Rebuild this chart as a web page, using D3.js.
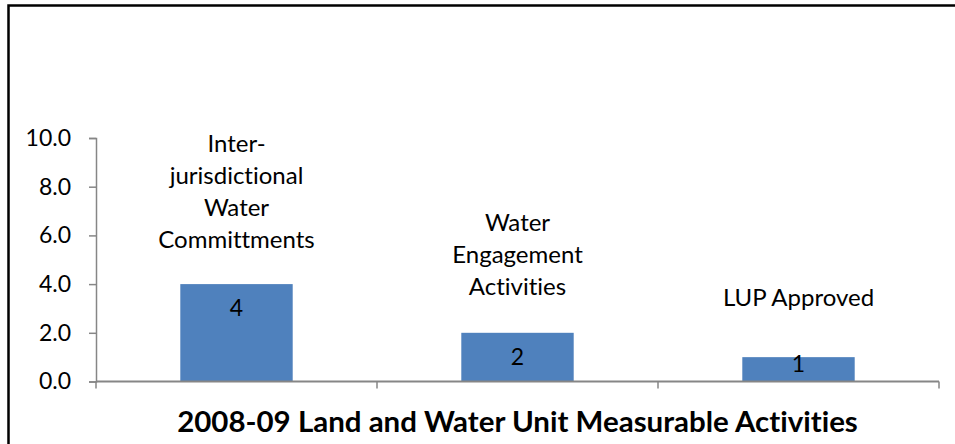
<!DOCTYPE html>
<html>
<head>
<meta charset="utf-8">
<script src="https://cdn.jsdelivr.net/npm/d3@7/dist/d3.min.js"></script>
<style>
  html, body { margin: 0; padding: 0; background: #fff; }
  svg { display: block; font-family: Lato, "Open Sans", sans-serif; font-variant-ligatures: none; }
</style>
</head>
<body>
<svg id="chart" width="955" height="444"></svg>
<script>
// ---- data ----
const categories = ["Inter-jurisdictional Water Committments", "Water Engagement Activities", "LUP Approved"];
const categoryLines = [
  ["Inter-", "jurisdictional", "Water", "Committments"],
  ["Water", "Engagement", "Activities"],
  ["LUP Approved"]
];
const values = [4, 2, 1];
const yTicks = [0, 2, 4, 6, 8, 10];
const title = "2008-09 Land and Water Unit Measurable Activities";

// ---- layout ----
const W = 955, H = 444;
const plot = { left: 96, right: 939, top: 138, bottom: 381.5 };
const FS = 23;
const svg = d3.select("#chart");

// frame
svg.append("rect")
  .attr("x", 8.5).attr("y", 5.5)
  .attr("width", W + 20).attr("height", H + 20)
  .attr("fill", "none").attr("stroke", "#000").attr("stroke-width", 2.5);

const x = d3.scaleBand().domain(categories)
  .range([plot.left, plot.right])
  .paddingInner(0.6).paddingOuter(0.3);
const y = d3.scaleLinear().domain([0, 10]).range([plot.bottom, plot.top]);

const axisColor = "#868686";

// y axis
const yAxis = svg.append("g")
  .attr("transform", `translate(${plot.left},0)`)
  .call(d3.axisLeft(y).tickValues(yTicks).tickFormat(d3.format(".1f")).tickSize(7).tickPadding(18));
yAxis.select(".domain").attr("stroke", axisColor).attr("stroke-width", 1.5);
yAxis.selectAll(".tick line").attr("stroke", axisColor).attr("stroke-width", 1.5);
yAxis.selectAll(".tick text").attr("fill", "#000").style("font-size", FS + "px")
  .style("font-family", "Lato, sans-serif");

// bars
svg.append("g").selectAll("rect").data(values).join("rect")
  .attr("x", (d, i) => x(categories[i]))
  .attr("width", x.bandwidth())
  .attr("y", d => y(d))
  .attr("height", d => y(0) - y(d))
  .attr("fill", "#4F81BD");

// x axis (category boundaries)
const step = x.step();
const bounds = d3.range(categories.length + 1).map(i => plot.left + i * step);
const xg = svg.append("g");
xg.append("line")
  .attr("x1", plot.left).attr("x2", plot.right)
  .attr("y1", y(0)).attr("y2", y(0))
  .attr("stroke", axisColor).attr("stroke-width", 1.8);
xg.selectAll("line.tk").data(bounds).join("line").attr("class", "tk")
  .attr("x1", d => d).attr("x2", d => d)
  .attr("y1", y(0)).attr("y2", y(0) + 7)
  .attr("stroke", axisColor).attr("stroke-width", 1.5);

// value labels (inside end)
svg.append("g").selectAll("text").data(values).join("text")
  .attr("x", (d, i) => x(categories[i]) + x.bandwidth() / 2)
  .attr("y", d => Math.min(y(d) + 32, y(0) - 10))
  .attr("text-anchor", "middle")
  .style("font-size", FS + "px")
  .attr("fill", "#000")
  .text(d => d);

// category name labels above bars
const labelGap = [36, 38, 51];
const lineH = 32;
categoryLines.forEach((lines, i) => {
  const cx = x(categories[i]) + x.bandwidth() / 2;
  const lastBase = y(values[i]) - labelGap[i];
  const t = svg.append("text")
    .attr("text-anchor", "middle")
    .style("font-size", "24px")
    .attr("fill", "#000");
  lines.forEach((ln, j) => {
    t.append("tspan")
      .attr("x", cx)
      .attr("y", lastBase - (lines.length - 1 - j) * lineH)
      .text(ln);
  });
});

// title
const tt = svg.append("text")
  .attr("x", 517.5).attr("y", 431.5)
  .attr("text-anchor", "middle")
  .style("font-weight", "bold")
  .style("font-size", "26px")
  .attr("fill", "#000")
  .text(title);
const tw = tt.node().getComputedTextLength();
tt.style("font-size", (26 * 681 / tw).toFixed(2) + "px");
</script>
</body>
</html>
